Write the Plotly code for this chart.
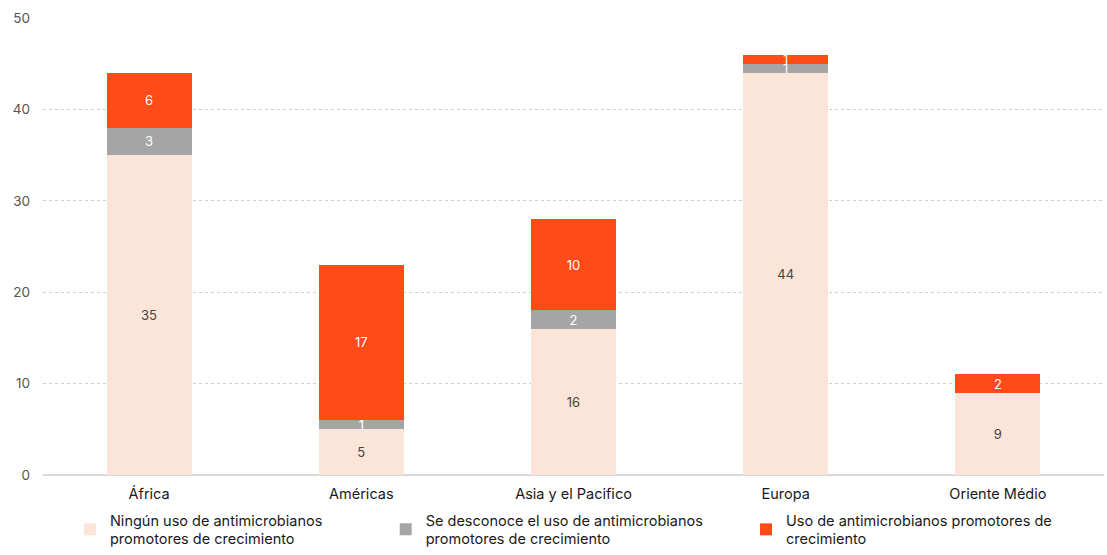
import plotly.graph_objects as go

categories = ["África", "Américas", "Asia y el Pacifico", "Europa", "Oriente Médio"]
ningun = [35, 5, 16, 44, 9]
desconoce = [3, 1, 2, 1, 0]
uso = [6, 17, 10, 1, 2]

series_names = [
    "Ningún uso de antimicrobianos<br>promotores de crecimiento",
    "Se desconoce el uso de antimicrobianos<br>promotores de crecimiento",
    "Uso de antimicrobianos promotores de<br>crecimiento",
]
colors = ["#FBE4D8", "#A5A5A5", "#FF4B17"]
text_colors = ["#444444", "#FFFFFF", "#FFFFFF"]
legends = ["legend", "legend2", "legend3"]

FONT = "Inter, Liberation Sans, Arial, sans-serif"

fig = go.Figure()
for vals, name, col, tcol, lg in zip([ningun, desconoce, uso], series_names, colors, text_colors, legends):
    fig.add_trace(go.Bar(
        x=categories, y=vals, name=name,
        marker=dict(color=col, line=dict(width=0)),
        text=[str(v) if v else "" for v in vals],
        textposition="inside", insidetextanchor="middle",
        constraintext="none", textangle=0,
        textfont=dict(color=tcol, size=13, family=FONT),
        legend=lg,
        hoverinfo="x+y+name",
    ))

leg_common = dict(
    orientation="h", yref="container", yanchor="bottom", y=0.0, xanchor="left",
    font=dict(size=14.5, color="#1a1a1a", family=FONT),
    bgcolor="rgba(0,0,0,0)", itemwidth=30, tracegroupgap=0,
)

fig.update_layout(
    barmode="stack",
    bargap=0.6,
    width=1107, height=555,
    margin=dict(l=43, r=3, t=18, b=80),
    plot_bgcolor="white", paper_bgcolor="white",
    font=dict(family=FONT),
    showlegend=True,
    legend=dict(x=0.0254, **leg_common),
    legend2=dict(x=0.323, **leg_common),
    legend3=dict(x=0.6626, **leg_common),
    xaxis=dict(
        showgrid=False, showline=False, ticks="",
        tickfont=dict(size=14.5, color="#1a1a1a", family=FONT),
        ticklabelstandoff=8,
    ),
    yaxis=dict(
        range=[0, 50], dtick=10,
        showgrid=True, gridcolor="#d0d0d0", griddash="3px,3px", gridwidth=1,
        zeroline=True, zerolinecolor="#d9d9d9", zerolinewidth=1.5,
        showline=False, ticks="",
        tickfont=dict(size=13.5, color="#555555", family=FONT),
        ticklabelstandoff=12,
    ),
)

fig.write_html("out.html")
